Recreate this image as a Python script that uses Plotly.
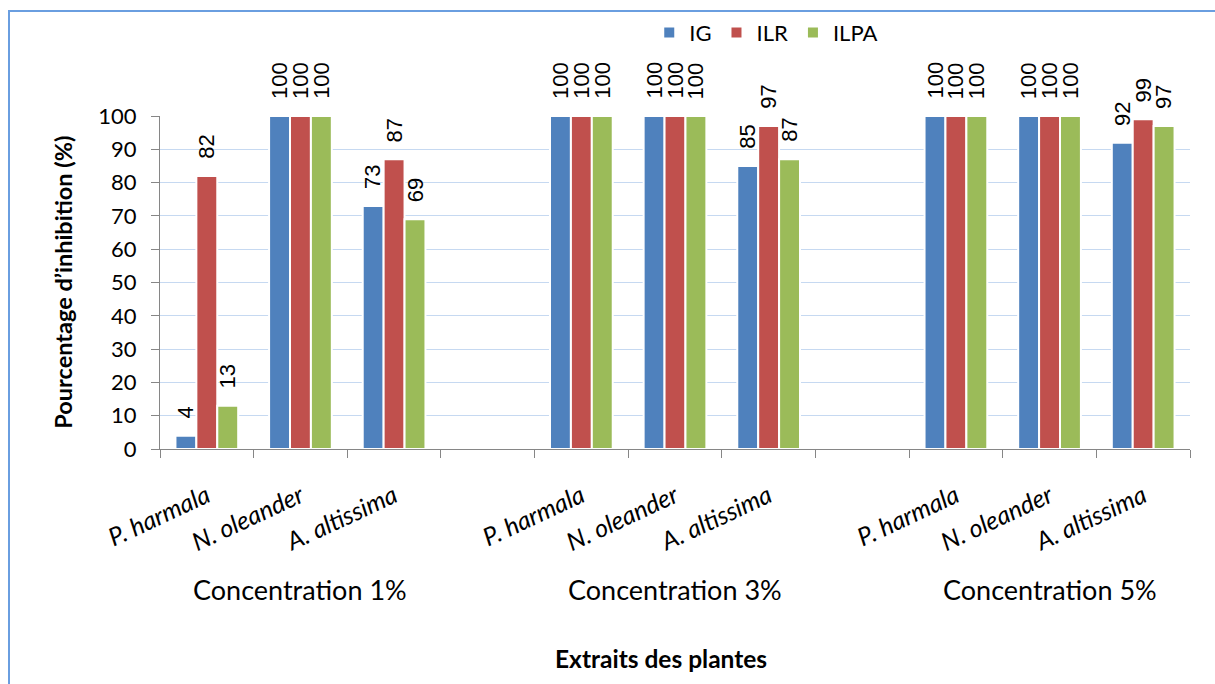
import plotly.graph_objects as go

# Plant extracts and concentrations
plants = ["P. harmala", "N. oleander", "A. altissima"]
concentrations = ["Concentration 1%", "Concentration 3%", "Concentration 5%"]

# Inhibition percentages, ordered concentration by concentration, plant by plant
ig = [4, 100, 73, 100, 100, 85, 100, 100, 92]
ilr = [82, 100, 87, 100, 100, 97, 100, 100, 99]
ilpa = [13, 100, 69, 100, 100, 87, 100, 100, 97]

series_names = ["IG", "ILR", "ILPA"]
series_values = [ig, ilr, ilpa]
series_colors = ["#4f81bd", "#c0504d", "#9bbb59"]

y_ticks = [0, 10, 20, 30, 40, 50, 60, 70, 80, 90, 100]

# one empty slot separates consecutive concentration groups
slots_per_group = len(plants) + 1
x_pos = [g * slots_per_group + p for g in range(len(concentrations)) for p in range(len(plants))]
x_labels = [plants[p] for g in range(len(concentrations)) for p in range(len(plants))]
n_slots = len(concentrations) * slots_per_group - 1
boundaries = [i - 0.5 for i in range(n_slots + 1)]

BARGAP = 0.33
bar_w = (1 - BARGAP) / len(series_names)

fig = go.Figure()
for name, vals, col in zip(series_names, series_values, series_colors):
    fig.add_trace(go.Bar(
        x=x_pos, y=vals, name=name,
        marker=dict(color=col, line=dict(color="white", width=2)),
        hoverinfo="x+y",
    ))

# value labels, rotated, above each bar
annotations = []
for i, vals in enumerate(series_values):
    offset = (i - (len(series_names) - 1) / 2) * bar_w
    for xp, v in zip(x_pos, vals):
        annotations.append(dict(
            x=xp + offset, y=v, xref="x", yref="y",
            text=str(v), showarrow=False, textangle=-90,
            xanchor="center", yanchor="bottom", yshift=15,
            font=dict(family="Liberation Sans, Arial, sans-serif", size=22, color="#000000"),
        ))

# concentration group labels under the plant names
for g, conc in enumerate(concentrations):
    annotations.append(dict(
        x=g * slots_per_group + (len(plants) - 1) / 2, y=-0.423,
        xref="x", yref="paper", text=conc, showarrow=False,
        xanchor="center", yanchor="middle",
        font=dict(family="Lato, sans-serif", size=27, color="#000000"),
    ))

# axis titles
annotations.append(dict(
    x=0.486, y=-0.628, xref="paper", yref="paper",
    text="<b>Extraits des plantes</b>", showarrow=False,
    xanchor="center", yanchor="middle",
    font=dict(family="Lato, sans-serif", size=24.5, color="#000000"),
))
annotations.append(dict(
    x=-0.095, y=0.5, xref="paper", yref="paper",
    text="<b>Pourcentage d’inhibition (%)</b>", showarrow=False, textangle=-90,
    xanchor="center", yanchor="middle",
    font=dict(family="Lato, sans-serif", size=23.5, color="#000000"),
))

fig.update_layout(
    width=1215, height=684,
    margin=dict(l=160, r=25, t=116, b=235),
    paper_bgcolor="white", plot_bgcolor="white",
    barmode="group", bargap=BARGAP, bargroupgap=0,
    showlegend=True,
    legend=dict(
        orientation="h", x=0.475, y=1.25, xanchor="left", yanchor="middle",
        font=dict(family="Lato, sans-serif", size=22, color="#000000"),
        bgcolor="rgba(0,0,0,0)",
    ),
    annotations=annotations,
    shapes=[dict(
        type="rect", xref="paper", yref="paper",
        x0=-0.1466, x1=1.1, y0=-0.8, y1=1.315,
        line=dict(color="#6a9ee0", width=2), layer="below",
    )],
    xaxis=dict(
        range=[-0.5, n_slots - 0.5],
        tickmode="array", tickvals=x_pos, ticktext=x_labels,
        tickangle=-25, ticks="",
        tickfont=dict(family="Lato, sans-serif", size=25, color="#000000", style="italic"),
        ticklabelstandoff=22,
        showline=True, linecolor="#868686", linewidth=1,
        showgrid=False, zeroline=False,
        minor=dict(tickmode="array", tickvals=boundaries, ticks="outside",
                   ticklen=8, tickcolor="#868686", tickwidth=1, showgrid=False),
    ),
    yaxis=dict(
        range=[0, 100],
        tickmode="array", tickvals=y_ticks,
        ticks="outside", ticklen=8, tickcolor="#868686",
        tickfont=dict(family="Lato, sans-serif", size=22, color="#000000"),
        ticklabelstandoff=10,
        showline=True, linecolor="#868686", linewidth=1,
        showgrid=True, gridcolor="#c6d9f1", gridwidth=1.2,
        zeroline=False,
    ),
)

fig.write_html("out.html")
